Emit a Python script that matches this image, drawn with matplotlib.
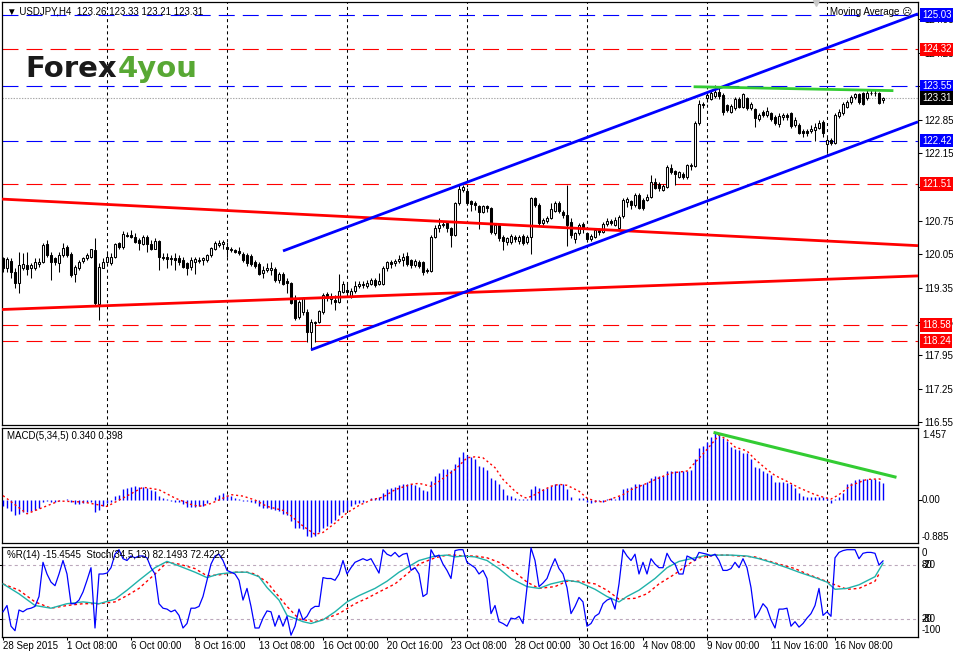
import matplotlib
matplotlib.use('Agg')
import matplotlib.pyplot as plt
import numpy as np

plt.rcParams['font.family'] = ['Liberation Sans', 'DejaVu Sans']
plt.rcParams['lines.scale_dashes'] = False

# ---------------- DATA ----------------
date_labels = ['28 Sep 2015', '1 Oct 08:00', '6 Oct 00:00', '8 Oct 16:00', '13 Oct 08:00',
               '16 Oct 00:00', '20 Oct 16:00', '23 Oct 08:00', '28 Oct 00:00', '30 Oct 16:00',
               '4 Nov 08:00', '9 Nov 00:00', '11 Nov 16:00', '16 Nov 08:00']
date_label_bars = [0, 16, 32, 48, 64, 80, 96, 112, 128, 144, 160, 176, 192, 208]
week_grid_bars = [26, 56, 86, 116, 146, 176, 206]

opens = [119.97,119.77,119.91,119.69,119.45,119.77,119.83,119.76,119.76,119.84,
 119.88,120.26,120.03,119.97,119.86,120.03,120.21,120.05,119.63,119.77,
 119.91,119.97,119.99,120.14,119.01,119.77,119.88,119.86,120.00,120.28,
 120.21,120.45,120.45,120.42,120.35,120.26,120.42,120.26,120.17,120.33,
 120.00,119.99,119.98,119.97,119.97,119.93,119.86,119.79,119.90,119.91,
 119.93,119.93,120.03,120.16,120.24,120.26,120.21,120.17,120.14,120.12,
 120.05,120.03,120.02,119.89,119.84,119.66,119.72,119.73,119.74,119.51,
 119.64,119.49,119.46,119.13,118.75,118.85,118.85,118.44,118.62,118.64,
 118.84,119.23,119.12,119.10,119.06,119.27,119.30,119.19,119.28,119.39,
 119.44,119.39,119.44,119.51,119.44,119.44,119.77,119.88,119.86,119.91,
 119.93,120.02,119.93,119.82,119.89,119.88,119.72,119.70,120.42,120.59,
 120.66,120.70,120.59,120.46,121.11,121.38,121.37,121.15,121.11,121.05,
 120.93,121.05,121.01,120.49,120.66,120.42,120.30,120.30,120.42,120.32,
 120.44,120.30,120.42,121.22,121.08,120.70,120.74,120.81,120.96,121.11,
 120.94,120.87,120.73,120.37,120.49,120.68,120.49,120.37,120.42,120.56,
 120.52,120.68,120.75,120.66,120.59,120.84,121.14,121.15,121.07,121.29,
 121.18,121.18,121.25,121.55,121.51,121.39,121.46,121.84,121.78,121.67,
 121.72,121.65,121.88,121.89,122.78,123.19,123.30,123.28,123.35,123.44,
 123.37,123.16,123.02,123.09,123.28,123.12,123.30,123.09,123.07,122.86,
 123.02,122.96,122.99,122.90,122.76,122.92,122.96,122.99,122.74,122.74,
 122.62,122.62,122.62,122.64,122.69,122.81,122.35,122.44,122.37,122.94,
 123.00,123.12,123.23,123.32,123.39,123.40,123.30,123.40,123.42,123.40,
 123.26]
highs = [120.00,120.00,119.98,119.76,120.10,120.07,120.10,119.86,119.97,119.97,
 120.28,120.35,120.10,120.00,120.10,120.28,120.24,120.10,119.83,119.93,
 120.00,120.07,120.17,120.38,119.86,119.97,120.10,120.07,120.28,120.31,
 120.54,120.52,120.56,120.49,120.38,120.45,120.45,120.35,120.38,120.35,
 120.07,120.07,120.03,120.07,120.03,120.00,119.90,120.00,120.00,120.00,
 120.00,120.05,120.21,120.33,120.35,120.35,120.31,120.21,120.17,120.21,
 120.10,120.07,120.05,119.93,119.89,119.80,119.86,119.88,119.78,119.69,
 119.68,119.55,119.48,119.20,119.10,119.17,118.92,118.71,118.66,118.90,
 119.24,119.27,119.24,119.20,119.63,119.49,119.48,119.35,119.49,119.49,
 119.50,119.52,119.55,119.56,119.66,119.80,119.92,119.93,119.96,120.03,
 120.07,120.10,119.96,119.96,119.93,119.91,119.76,120.45,120.66,120.80,
 120.73,120.73,120.62,121.14,121.49,121.50,121.44,121.18,121.15,121.08,
 121.08,121.08,121.04,120.70,120.70,120.45,120.42,120.47,120.45,120.45,
 120.47,120.45,121.25,121.25,121.11,120.80,120.85,121.11,121.15,121.15,
 120.97,121.50,120.80,120.52,120.70,120.73,120.52,120.47,120.59,120.59,
 120.73,120.80,120.79,120.82,120.87,121.22,121.25,121.18,121.32,121.32,
 121.22,121.30,121.71,121.64,121.55,121.51,121.91,121.93,121.81,121.79,
 121.76,121.94,121.95,122.82,123.26,123.23,123.40,123.47,123.57,123.54,
 123.40,123.19,123.19,123.33,123.33,123.42,123.33,123.23,123.10,123.00,
 123.05,123.12,123.02,122.95,122.99,122.99,123.00,123.02,122.92,122.78,
 122.65,122.65,122.74,122.78,122.85,122.85,122.50,122.47,123.00,123.07,
 123.23,123.26,123.37,123.42,123.42,123.43,123.47,123.47,123.47,123.43,
 123.33]
lows = [119.69,119.69,119.55,119.34,119.24,119.72,119.62,119.55,119.72,119.79,
 119.86,119.99,119.51,119.83,119.69,119.99,119.99,119.58,119.48,119.72,
 119.86,119.93,119.97,118.99,118.68,119.76,119.86,119.83,119.97,120.17,
 120.17,120.42,120.38,120.28,120.14,120.24,120.10,120.14,120.16,119.72,
 119.93,119.76,119.83,119.72,119.83,119.76,119.62,119.72,119.65,119.86,
 119.83,119.90,119.99,120.14,120.21,120.17,119.99,120.10,120.07,120.03,
 119.89,119.80,119.80,119.76,119.62,119.55,119.69,119.62,119.48,119.45,
 119.41,119.24,119.02,118.69,118.71,118.78,118.23,118.06,118.23,118.62,
 118.81,119.08,119.02,118.88,119.03,119.24,119.20,119.15,119.25,119.35,
 119.35,119.34,119.41,119.37,119.41,119.41,119.70,119.76,119.80,119.86,
 119.80,119.80,119.76,119.78,119.77,119.62,119.66,119.68,120.38,120.52,
 120.62,120.52,120.20,120.43,121.08,121.35,121.08,120.95,120.98,120.57,
 120.90,120.94,120.48,120.46,120.32,120.13,120.25,120.27,120.30,120.27,
 120.25,120.27,120.06,121.04,120.66,120.66,120.70,120.78,120.94,120.91,
 120.80,120.22,120.39,120.28,120.45,120.49,120.30,120.32,120.39,120.45,
 120.49,120.63,120.66,120.63,120.56,120.80,121.04,121.00,121.04,121.00,
 120.98,121.15,121.22,121.40,121.36,121.36,121.43,121.72,121.50,121.64,
 121.62,121.62,121.80,121.86,122.75,123.09,123.22,123.26,123.30,123.29,
 122.96,123.02,122.99,123.06,123.09,123.09,123.05,123.05,122.71,122.82,
 122.92,122.92,122.82,122.75,122.71,122.85,122.85,122.68,122.71,122.55,
 122.50,122.52,122.58,122.40,122.65,122.50,122.15,122.33,122.35,122.89,
 122.96,123.09,123.19,123.29,123.19,123.15,123.26,123.37,123.35,123.19,
 123.21]
closes = [119.76,119.95,119.69,119.45,119.83,119.84,119.74,119.83,119.88,119.90,
 120.24,120.03,119.90,119.88,120.03,120.19,120.03,119.62,119.79,119.90,
 119.97,120.03,120.16,119.03,119.79,119.88,120.00,120.00,120.26,120.21,
 120.47,120.44,120.42,120.31,120.28,120.42,120.26,120.17,120.33,120.00,
 119.97,119.95,119.95,119.93,119.90,119.79,119.76,119.93,119.95,119.93,
 119.98,120.03,120.19,120.28,120.28,120.31,120.16,120.14,120.10,120.07,
 119.93,119.86,119.84,119.81,119.63,119.72,119.76,119.77,119.51,119.63,
 119.44,119.46,119.04,118.73,119.06,119.13,118.44,118.64,118.64,118.87,
 119.21,119.13,119.17,119.05,119.28,119.44,119.27,119.28,119.39,119.44,
 119.41,119.46,119.51,119.41,119.49,119.76,119.88,119.84,119.91,119.96,
 120.00,119.84,119.82,119.91,119.81,119.69,119.70,120.42,120.59,120.66,
 120.68,120.59,120.45,121.11,121.42,121.46,121.11,121.09,121.07,120.93,
 121.05,121.01,120.51,120.66,120.40,120.33,120.39,120.44,120.37,120.42,
 120.28,120.42,121.23,121.07,120.70,120.77,120.81,121.00,121.11,120.96,
 120.86,120.66,120.45,120.49,120.66,120.58,120.37,120.44,120.56,120.52,
 120.68,120.75,120.70,120.77,120.82,121.18,121.20,121.08,121.29,121.02,
 121.02,121.25,121.55,121.43,121.43,121.48,121.86,121.76,121.72,121.76,
 121.67,121.90,121.91,122.78,123.19,123.15,123.37,123.42,123.44,123.35,
 123.02,123.06,123.14,123.28,123.12,123.39,123.09,123.19,122.88,122.96,
 122.96,123.03,122.86,122.78,122.93,122.95,122.92,122.72,122.85,122.58,
 122.57,122.58,122.67,122.71,122.79,122.57,122.44,122.37,122.95,123.02,
 123.19,123.23,123.33,123.39,123.23,123.18,123.42,123.42,123.40,123.21,
 123.31]

blue_levels = [125.03, 123.55, 122.42]
red_levels = [124.32, 121.51, 118.58, 118.24]
current_price = 123.31
price_ticks = [116.55, 117.25, 117.95, 118.65, 119.35, 120.05, 120.75, 121.45,
               122.15, 122.85, 123.55, 124.25, 124.95]

channel_upper = ([70, 228.75], [120.12, 125.06])
channel_lower = ([77, 228.75], [118.06, 122.81])
red_upper = ([-0.25, 228.75], [121.20, 120.23])
red_lower = ([-0.25, 228.75], [118.90, 119.60])
green_ma = ([173, 222.25], [123.54, 123.46])

macd = [-0.13,-0.17,-0.24,-0.32,-0.29,-0.26,-0.26,-0.24,-0.21,-0.17,
 -0.05,-0.02,-0.04,-0.04,-0.02,0.00,0.02,-0.05,-0.10,-0.10,
 -0.08,-0.05,-0.04,-0.26,-0.21,-0.14,-0.08,-0.04,0.08,0.10,
 0.21,0.24,0.25,0.27,0.26,0.26,0.24,0.19,0.17,0.08,
 0.04,0.02,-0.02,-0.04,-0.05,-0.10,-0.15,-0.15,-0.15,-0.14,
 -0.13,-0.08,0.00,0.05,0.10,0.14,0.10,0.07,0.04,0.02,
 -0.02,-0.02,-0.05,-0.08,-0.14,-0.17,-0.17,-0.19,-0.22,-0.24,
 -0.29,-0.31,-0.44,-0.58,-0.58,-0.61,-0.75,-0.77,-0.74,-0.67,
 -0.58,-0.53,-0.48,-0.42,-0.32,-0.26,-0.21,-0.14,-0.10,-0.07,
 -0.04,0.00,0.04,0.04,0.05,0.14,0.22,0.24,0.26,0.29,
 0.32,0.32,0.31,0.29,0.26,0.19,0.17,0.38,0.47,0.55,
 0.63,0.63,0.61,0.72,0.87,0.97,0.90,0.86,0.82,0.69,
 0.67,0.61,0.44,0.40,0.31,0.22,0.10,0.07,0.04,0.02,
 0.02,0.02,0.22,0.27,0.24,0.22,0.24,0.27,0.32,0.32,
 0.31,0.22,0.05,0.00,0.04,0.04,-0.04,-0.07,-0.04,-0.02,
 -0.04,0.02,0.04,0.02,0.07,0.22,0.24,0.26,0.31,0.31,
 0.32,0.35,0.44,0.47,0.47,0.47,0.58,0.58,0.58,0.58,
 0.58,0.58,0.60,0.82,1.04,1.09,1.17,1.28,1.38,1.33,
 1.26,1.20,1.08,1.03,1.01,0.95,0.95,0.82,0.67,0.65,
 0.58,0.55,0.50,0.35,0.35,0.35,0.34,0.31,0.24,0.14,
 0.08,0.05,0.05,0.05,0.05,0.05,0.04,-0.07,0.02,0.05,
 0.14,0.31,0.34,0.40,0.42,0.41,0.42,0.42,0.41,0.38,
 0.34]
macd_signal_bars = [0,6,14,20,26,30,35,39,43,47,49,52,57,60,63,66,70,72,75,78,80,83,86,89,92,95,98,
                    102,104,107,109,113,116,118,120,123,125,128,130,131,133,135,137,139,141,144,146,
                    148,150,152,155,157,161,164,167,171,173,176,179,181,183,186,188,191,193,196,199,
                    203,205,207,209,212,216,219,220]
macd_signal = [0.08,-0.29,-0.03,-0.05,-0.14,0.03,0.25,0.20,0.03,-0.10,-0.14,-0.08,0.10,0.07,-0.01,
               -0.14,-0.22,-0.33,-0.54,-0.71,-0.67,-0.48,-0.27,-0.12,-0.01,0.05,0.20,
               0.31,0.33,0.27,0.37,0.61,0.85,0.87,0.85,0.65,0.41,0.17,0.05,0.03,0.10,0.19,0.27,
               0.31,0.29,0.17,0.03,-0.03,-0.05,0.01,0.10,0.20,0.33,0.44,0.54,0.58,0.75,1.02,1.31,
               1.22,1.07,0.99,0.82,0.61,0.49,0.37,0.24,0.10,0.05,0.01,0.10,0.29,0.41,0.42,0.40]
macd_green = ([178, 223], [1.36, 0.46])

wpr = [-72,-65,-88,-93,-70,-72,-69,-68,-66,-55,
 -17,-30,-39,-43,-30,-15,-30,-63,-63,-59,
 -50,-37,-23,-90,-30,-30,-29,-23,-8,-3,
 -13,-15,-10,-12,-10,-10,-12,-23,-30,-63,
 -68,-69,-72,-70,-76,-90,-85,-68,-68,-66,
 -55,-37,-19,-10,-8,-15,-26,-28,-30,-37,
 -59,-46,-66,-90,-90,-79,-71,-72,-88,-76,
 -88,-77,-98,-88,-69,-81,-77,-69,-66,-66,
 -34,-35,-35,-37,-30,-15,-30,-23,-17,-15,
 -13,-15,-13,-21,-29,-3,-8,-10,-6,-11,
 -8,-7,-26,-23,-30,-55,-52,-3,-11,-9,
 -19,-26,-35,-4,-3,-3,-17,-20,-23,-30,
 -26,-35,-74,-65,-83,-85,-88,-79,-80,-77,
 -85,-45,-1,-15,-44,-40,-35,-23,-13,-24,
 -30,-45,-74,-66,-56,-61,-88,-85,-77,-74,
 -63,-59,-57,-69,-41,-3,-10,-15,-8,-30,
 -17,-30,-13,-19,-23,-23,-7,-15,-19,-30,
 -30,-10,-12,-15,-6,-7,-8,-10,-8,-15,
 -26,-26,-24,-17,-23,-13,-23,-45,-79,-72,
 -63,-68,-81,-90,-69,-69,-68,-88,-83,-89,
 -85,-79,-74,-65,-46,-76,-72,-77,-12,-6,
 -4,-3,-3,-3,-13,-7,-6,-6,-7,-20,
 -15.45]

stoch_bars = [0,4,8,12,16,20,24,28,31,34,38,41,44,48,51,54,58,61,64,66,69,71,75,77,80,83,86,89,93,96,
              99,104,108,111,113,115,118,121,124,127,131,134,137,141,144,148,151,154,156,159,163,166,
              169,172,176,179,182,186,189,192,196,199,203,206,208,211,214,218,220]
stoch_main = [59,48,35,32,37,39,37,42,52,63,77,84,79,72,66,70,72,72,67,55,41,24,17,15,19,28,39,46,54,62,
              72,85,90,91,89,90,89,85,76,65,56,54,59,63,61,53,45,39,45,52,65,77,
              84,87,91,91,91,90,87,83,77,72,66,61,53,54,58,67,82]
stoch_sig_bars = [0,4,8,12,16,20,24,28,31,34,38,41,44,48,51,54,58,61,63,66,68,71,74,78,81,84,88,91,94,98,
                  101,104,108,111,113,115,118,121,124,128,131,134,138,141,144,148,151,154,158,161,164,168,
                  171,174,178,181,184,188,191,194,198,201,204,208,211,214,218,219]
stoch_signal = [59,52,39,32,35,37,37,39,46,54,70,83,81,76,68,69,72,72,70,61,50,34,20,17,21,26,37,43,50,59,
                70,81,88,91,91,90,90,88,83,72,61,54,56,62,62,59,52,42,43,48,59,70,
                80,88,91,91,90,89,85,81,76,70,65,58,53,54,62,70]

# ---------------- FIGURE ----------------
W, H = 954, 653
fig = plt.figure(figsize=(W / 100, H / 100), dpi=100)


def rect(x0, y0, x1, y1):
    return [x0 / W, 1 - y1 / H, (x1 - x0) / W, (y1 - y0) / H]


ax1 = fig.add_axes(rect(2, 2, 918, 425))
ax2 = fig.add_axes(rect(2, 428, 918, 543))
ax3 = fig.add_axes(rect(2, 547, 918, 637))

XL = (-0.25, 228.75)
for ax in (ax1, ax2, ax3):
    ax.set_xlim(*XL)
    for s in ax.spines.values():
        s.set_linewidth(0.9)
        s.set_color('black')
    for g in week_grid_bars:
        ax.axvline(g, color='black', lw=0.75, dashes=(2.2, 2.2), zorder=1)

BLUE = '#0000ff'
RED = '#ff0000'
GREEN = '#33cc33'
FS = 7

# ---- main price panel ----
ax1.set_ylim(116.494, 125.306)
ax1.set_xticks([])
ax1.yaxis.tick_right()
ax1.set_yticks(price_ticks)
# labels fully hidden under a level box are left blank
ax1.set_yticklabels(['' if abs(v - 123.55) < 1e-6 else '%.2f' % v for v in price_ticks])
ax1.tick_params(axis='y', length=3, width=0.75, pad=1.5, labelsize=FS)

for lv in blue_levels:
    ax1.axhline(lv, color=BLUE, lw=0.8, dashes=(11.5, 5.8), zorder=2)
for lv in red_levels:
    ax1.axhline(lv, color=RED, lw=0.8, dashes=(11.5, 5.8), zorder=2)
ax1.axhline(current_price, color='#a8a8a8', lw=0.8, dashes=(1, 1), zorder=2)

x = np.arange(len(closes))
o = np.array(opens)
c = np.array(closes)
ax1.vlines(x, lows, highs, color='black', lw=0.75, zorder=3)
bull = c >= o
ax1.bar(x, np.abs(c - o), bottom=np.minimum(o, c), width=0.55,
        color=['white' if b else 'black' for b in bull], edgecolor='black',
        linewidth=0.75, zorder=4)

for (xs, ys), col in ((red_upper, RED), (red_lower, RED), (channel_upper, BLUE),
                      (channel_lower, BLUE)):
    ax1.plot(xs, ys, color=col, lw=2.0, zorder=5, solid_capstyle='butt')
ax1.plot(green_ma[0], green_ma[1], color=GREEN, lw=2.0, zorder=5)

# right-side price boxes
for lv, col in ([(v, BLUE) for v in blue_levels] + [(v, RED) for v in red_levels]
                + [(current_price, 'black')]):
    ax1.annotate('%.2f' % lv, xy=(1, lv), xycoords=('axes fraction', 'data'),
                 xytext=(4, 0), textcoords='offset pixels', ha='left', va='center',
                 fontsize=FS, color='white', annotation_clip=False, zorder=10,
                 bbox=dict(boxstyle='square,pad=0.18', fc=col, ec='none'))

# ---- MACD panel ----
ax2.set_ylim(-0.885, 1.457)
ax2.set_xticks([])
ax2.yaxis.tick_right()
ax2.set_yticks([0])
ax2.set_yticklabels([''])
ax2.tick_params(axis='y', length=3, width=0.75)
ax2.vlines(x, 0, macd, color=BLUE, lw=1.0, zorder=3)
ax2.plot(macd_signal_bars, macd_signal, color=RED, lw=1.0, ls=(0, (1.5, 2.0)), zorder=4)
ax2.plot(macd_green[0], macd_green[1], color=GREEN, lw=2.2, zorder=5)
for txt, yv, dy in (('1.457', 1.457, -7), ('0.00', 0.0, 0), ('-0.885', -0.885, 6)):
    ax2.annotate(txt, xy=(1, yv), xycoords=('axes fraction', 'data'), xytext=(4, dy),
                 textcoords='offset pixels', ha='left', va='center', fontsize=FS,
                 annotation_clip=False)

# ---- Stochastic / %R panel ----
ax3.set_ylim(0, 100)
ax3.yaxis.tick_right()
ax3.set_yticks([80, 20])
ax3.set_yticklabels(['', ''])
ax3.tick_params(axis='y', length=3, width=0.75)
ax3.set_xticks(date_label_bars)
ax3.set_xticklabels([''] * len(date_label_bars))
ax3.tick_params(axis='x', length=2, width=0.75, direction='out')
ax3.axhline(80, color='#bca8bc', lw=0.8, dashes=(2.2, 2.2), zorder=1)
ax3.axhline(20, color='#bca8bc', lw=0.8, dashes=(2.2, 2.2), zorder=1)
ax3.plot(stoch_sig_bars, stoch_signal, color=RED, lw=1.0, ls=(0, (2.0, 2.0)), zorder=3)
ax3.plot(stoch_bars, stoch_main, color='#20b2aa', lw=1.0, zorder=4)
ax3b = ax3.twinx()
ax3b.set_ylim(-100, 0)
ax3b.set_xlim(*XL)
ax3b.axis('off')
ax3b.plot(x, wpr, color=BLUE, lw=0.9, zorder=5)
# the Stoch (0..100) and %R (-100..0) scale labels share this panel and overprint, as in MT4
for txt, yv, dy in (('0', 100, -6), ('80', 80, 0), ('-20', 80, 0), ('20', 20, 0),
                    ('-80', 20, 0), ('-100', 0, 7)):
    ax3.annotate(txt, xy=(1, yv), xycoords=('axes fraction', 'data'), xytext=(4, dy),
                 textcoords='offset pixels', ha='left', va='center', fontsize=FS,
                 annotation_clip=False)

for lab, b in zip(date_labels, date_label_bars):
    ax3.annotate(lab, xy=(b, 0), xycoords=('data', 'axes fraction'), xytext=(0, -4),
                 textcoords='offset pixels', ha='left', va='top', fontsize=FS,
                 annotation_clip=False)

# ---- texts ----
fig.text(7 / W, 1 - 11 / H, '\u25bc USDJPY,H4  123.26 123.33 123.21 123.31',
         fontsize=FS, va='center', ha='left')
fig.text(830 / W, 1 - 12 / H, 'Moving Average \u2639', fontsize=FS, va='center', ha='left')
fig.text(7 / W, 1 - 436 / H, 'MACD(5,34,5) 0.340 0.398', fontsize=FS, va='center', ha='left')
fig.text(7 / W, 1 - 555 / H, '%R(14) -15.4545  Stoch(34,5,13) 82.1493 72.4222',
         fontsize=FS, va='center', ha='left')
ax1.plot([203.3], [125.28], marker='v', color='#c8c8c8', ms=5, zorder=6, clip_on=False)

t1 = fig.text(25 / W, 1 - 77 / H, 'Forex', fontsize=21, fontweight='bold',
              color='#1a1a1a', family='DejaVu Sans', va='baseline', ha='left')
fig.canvas.draw()
bb = t1.get_window_extent()
fig.text((bb.x1 + 1) / W, 1 - 77 / H, '4you', fontsize=21, fontweight='bold',
         color='#58a834', family='DejaVu Sans', va='baseline', ha='left')

fig.savefig('out.png', dpi=100)
